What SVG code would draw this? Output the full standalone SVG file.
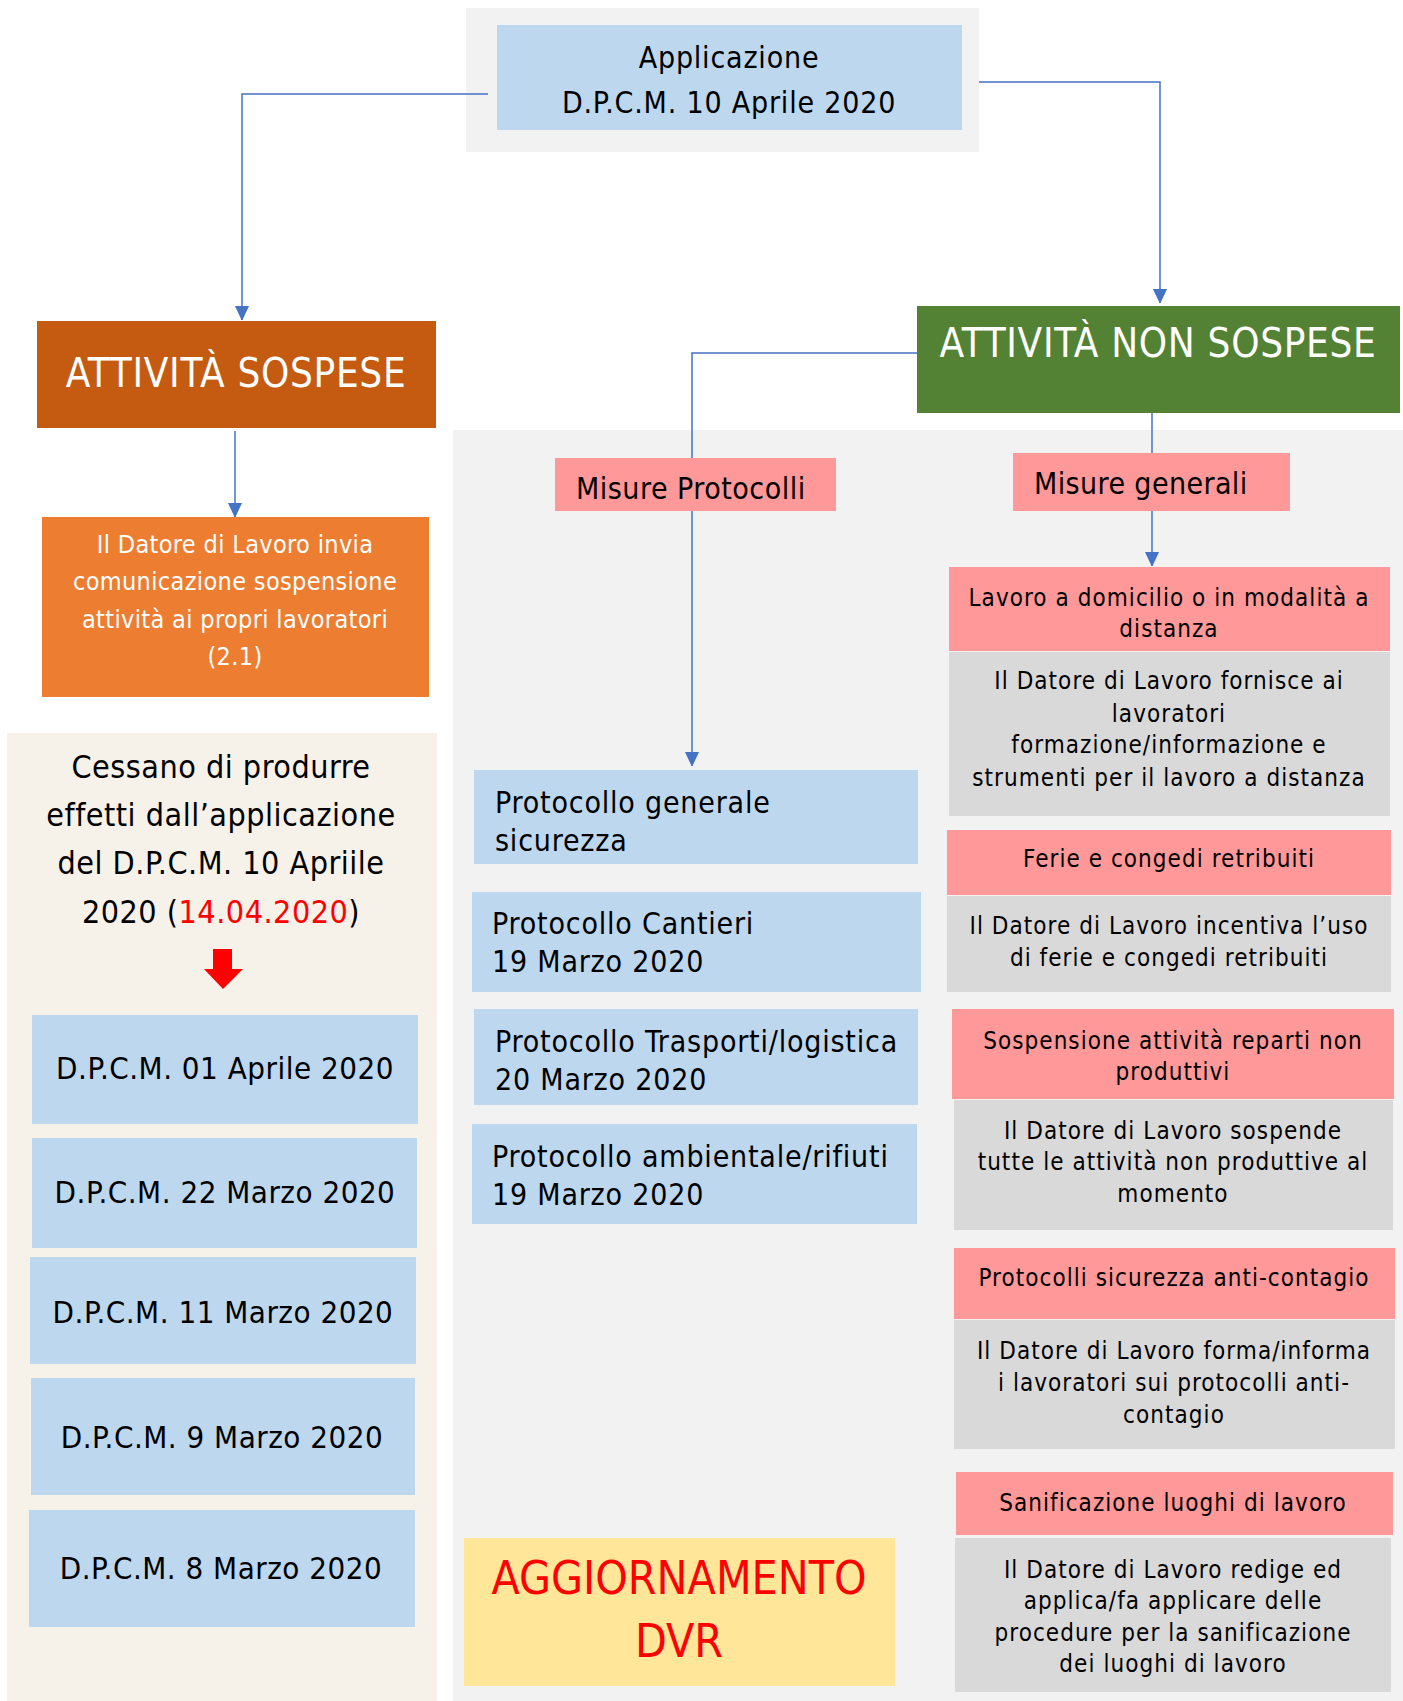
<svg xmlns="http://www.w3.org/2000/svg" width="1403" height="1701" viewBox="0 0 1403 1701">
<defs>
<marker id="arr" viewBox="0 0 14 15" refX="14" refY="7" markerWidth="14" markerHeight="15" markerUnits="userSpaceOnUse" orient="auto">
<path d="M0,0 L15,7 L0,14 Z" fill="#4472c4"/>
</marker>
<style>
text{font-family:"DejaVu Sans Condensed","DejaVu Sans",sans-serif;fill:#000}
.c{text-anchor:middle}
.w{fill:#fff}
.r{fill:#ff0000}
.t30{font-size:30px;letter-spacing:0.8px}
.t40{font-size:40px;letter-spacing:0.7px}
.t25{font-size:25px;letter-spacing:0.35px}
.t32{font-size:32px;letter-spacing:0.5px}
.t31{font-size:31px;letter-spacing:0.5px}
.t24{font-size:24px;letter-spacing:1.05px}
.t46{font-size:46px}
.blue{fill:#bdd7ee}
.pink{fill:#ff9999}
.gray{fill:#d9d9d9}
.cn{fill:none;stroke:#4472c4;stroke-width:1.5}
</style>
</defs>
<rect width="1403" height="1701" fill="#fff"/>
<g id="panel-right"><rect x="453" y="430" width="950" height="1271" fill="#f2f2f2"/></g>
<g id="panel-left"><rect x="7" y="733" width="430" height="968" fill="#f6f1e9"/></g>

<g id="top">
<rect x="466" y="8" width="513" height="144" fill="#f2f2f2"/>
<rect x="497" y="25" width="465" height="105" class="blue"/>
<text class="c t30" x="729" y="68">Applicazione</text>
<text class="c t30" x="729" y="113">D.P.C.M. 10 Aprile 2020</text>
</g>
<g id="sospese">
<rect x="37" y="321" width="399" height="107" fill="#c55a11"/>
<text class="c t40 w" x="236" y="387">ATTIVITÀ SOSPESE</text>
</g>
<g id="non-sospese">
<rect x="917" y="306" width="483" height="107" fill="#548235"/>
<text class="c t40 w" x="1158" y="357">ATTIVITÀ NON SOSPESE</text>
</g>
<g id="comunicazione">
<rect x="42" y="517" width="387" height="180" fill="#ed7d31"/>
<text class="c t25 w" x="235" y="553">Il Datore di Lavoro invia</text>
<text class="c t25 w" x="235" y="590">comunicazione sospensione</text>
<text class="c t25 w" x="235" y="628">attività ai propri lavoratori</text>
<text class="c t25 w" x="235" y="665">(2.1)</text>
</g>
<g id="cessano">
<text class="c t32" x="221" y="778">Cessano di produrre</text>
<text class="c t32" x="221" y="826">effetti dall’applicazione</text>
<text class="c t32" x="221" y="874">del D.P.C.M. 10 Apriile</text>
<text class="c t32" x="221" y="923">2020 (<tspan class="r">14.04.2020</tspan>)</text>
<path d="M213,949 H232 V969 H243 L223,989 L204,969 H213 Z" fill="#ff0000"/>
</g>
<g id="dpcm1"><rect x="32" y="1015" width="386" height="109" class="blue"/><text class="c t31" x="225" y="1079">D.P.C.M. 01 Aprile 2020</text></g>
<g id="dpcm2"><rect x="32" y="1138" width="385" height="110" class="blue"/><text class="c t31" x="225" y="1203">D.P.C.M. 22 Marzo 2020</text></g>
<g id="dpcm3"><rect x="30" y="1257" width="386" height="107" class="blue"/><text class="c t31" x="223" y="1323">D.P.C.M. 11 Marzo 2020</text></g>
<g id="dpcm4"><rect x="31" y="1378" width="384" height="117" class="blue"/><text class="c t31" x="222" y="1448">D.P.C.M. 9 Marzo 2020</text></g>
<g id="dpcm5"><rect x="29" y="1510" width="386" height="117" class="blue"/><text class="c t31" x="221" y="1579">D.P.C.M. 8 Marzo 2020</text></g>

<g id="misure-protocolli">
<rect x="555" y="458" width="281" height="53" class="pink"/>
<text class="t30" x="576" y="499" style="letter-spacing:0.5px">Misure Protocolli</text>
</g>
<g id="misure-generali">
<rect x="1013" y="453" width="277" height="58" class="pink"/>
<text class="t30" x="1034" y="494" style="letter-spacing:0.4px">Misure generali</text>
</g>
<g id="prot-generale"><rect x="474" y="770" width="444" height="94" class="blue"/>
<text class="t30" x="495" y="813">Protocollo generale</text><text class="t30" x="495" y="851">sicurezza</text></g>
<g id="prot-cantieri"><rect x="472" y="892" width="449" height="100" class="blue"/>
<text class="t30" x="492" y="934">Protocollo Cantieri</text><text class="t30" x="492" y="972">19 Marzo 2020</text></g>
<g id="prot-trasporti"><rect x="474" y="1009" width="444" height="96" class="blue"/>
<text class="t30" x="495" y="1052">Protocollo Trasporti/logistica</text><text class="t30" x="495" y="1090">20 Marzo 2020</text></g>
<g id="prot-ambientale"><rect x="472" y="1124" width="445" height="100" class="blue"/>
<text class="t30" x="492" y="1167">Protocollo ambientale/rifiuti</text><text class="t30" x="492" y="1205">19 Marzo 2020</text></g>
<g id="aggiornamento"><rect x="464" y="1538" width="431" height="148" fill="#ffe699"/>
<text class="c t46 r" x="679" y="1594">AGGIORNAMENTO</text><text class="c t46 r" x="679" y="1657">DVR</text></g>

<g id="lavoro-distanza">
<rect x="949" y="567" width="441" height="84" class="pink"/>
<text class="c t24" x="1169" y="606">Lavoro a domicilio o in modalità a</text>
<text class="c t24" x="1169" y="637">distanza</text>
<rect x="949" y="652" width="441" height="164" class="gray"/>
<text class="c t24" x="1169" y="689">Il Datore di Lavoro fornisce ai</text>
<text class="c t24" x="1169" y="722">lavoratori</text>
<text class="c t24" x="1169" y="753">formazione/informazione e</text>
<text class="c t24" x="1169" y="786">strumenti per il lavoro a distanza</text>
</g>
<g id="ferie">
<rect x="947" y="830" width="444" height="65" class="pink"/>
<text class="c t24" x="1169" y="867">Ferie e congedi retribuiti</text>
<rect x="947" y="896" width="444" height="96" class="gray"/>
<text class="c t24" x="1169" y="934">Il Datore di Lavoro incentiva l’uso</text>
<text class="c t24" x="1169" y="966">di ferie e congedi retribuiti</text>
</g>
<g id="sospensione">
<rect x="952" y="1009" width="442" height="90" class="pink"/>
<text class="c t24" x="1173" y="1049">Sospensione attività reparti non</text>
<text class="c t24" x="1173" y="1080">produttivi</text>
<rect x="954" y="1100" width="439" height="130" class="gray"/>
<text class="c t24" x="1173" y="1139">Il Datore di Lavoro sospende</text>
<text class="c t24" x="1173" y="1170">tutte le attività non produttive al</text>
<text class="c t24" x="1173" y="1202">momento</text>
</g>
<g id="anti-contagio">
<rect x="954" y="1248" width="441" height="71" class="pink"/>
<text class="c t24" x="1174" y="1286">Protocolli sicurezza anti-contagio</text>
<rect x="954" y="1320" width="441" height="129" class="gray"/>
<text class="c t24" x="1174" y="1359">Il Datore di Lavoro forma/informa</text>
<text class="c t24" x="1174" y="1391">i lavoratori sui protocolli anti-</text>
<text class="c t24" x="1174" y="1423">contagio</text>
</g>
<g id="sanificazione">
<rect x="956" y="1472" width="437" height="63" class="pink"/>
<text class="c t24" x="1173" y="1511">Sanificazione luoghi di lavoro</text>
<rect x="955" y="1538" width="436" height="154" class="gray"/>
<text class="c t24" x="1173" y="1578">Il Datore di Lavoro redige ed</text>
<text class="c t24" x="1173" y="1609">applica/fa applicare delle</text>
<text class="c t24" x="1173" y="1641">procedure per la sanificazione</text>
<text class="c t24" x="1173" y="1672">dei luoghi di lavoro</text>
</g>

<g id="connectors">
<path class="cn" d="M488,94 H242 V320" marker-end="url(#arr)"/>
<path class="cn" d="M979,82 H1160 V303" marker-end="url(#arr)"/>
<path class="cn" d="M235,431 V517" marker-end="url(#arr)"/>
<path class="cn" d="M917,353 H692 V458"/>
<path class="cn" d="M692,511 V766" marker-end="url(#arr)"/>
<path class="cn" d="M1152,413 V453"/>
<path class="cn" d="M1152,511 V566" marker-end="url(#arr)"/>
</g>
</svg>
